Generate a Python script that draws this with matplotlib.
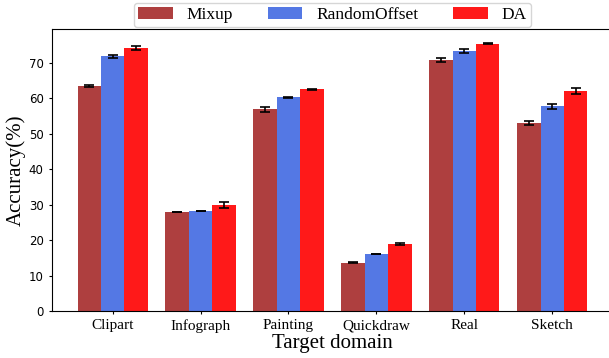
import numpy as np
import matplotlib.pyplot as plt

domains = ["Clipart", "Infograph", "Painting", "Quickdraw", "Real", "Sketch"]
methods = ["Mixup", "RandomOffset", "DA"]

mixup = [63.4, 27.9, 56.9, 13.6, 70.7, 53.0]
mixup_err = [0.3, 0.1, 0.7, 0.1, 0.6, 0.5]
random_offset = [71.8, 28.2, 60.2, 16.1, 73.2, 57.7]
random_offset_err = [0.4, 0.1, 0.2, 0.1, 0.6, 0.7]
da = [74.1, 29.9, 62.5, 18.9, 75.4, 62.0]
da_err = [0.5, 0.8, 0.1, 0.4, 0.2, 0.9]

colors = ["brown", "royalblue", "red"]

fig = plt.figure(figsize=(6.09, 3.58), dpi=100)
ax = fig.add_axes([0.0854, 0.1313, 0.921, 0.7877])

x = np.arange(len(domains))
width = 0.8 / 3
series = [(mixup, mixup_err), (random_offset, random_offset_err), (da, da_err)]
for i, (vals, errs) in enumerate(series):
    ax.bar(x + (i - 1) * width, vals, width, yerr=errs, color=colors[i], alpha=0.9,
           label=methods[i], capsize=3.3,
           error_kw=dict(ecolor="black", elinewidth=1.2, capthick=1.2))

ax.set_xticks(x)
ax.set_xticklabels(domains, fontfamily="Liberation Serif", fontsize=11)
ax.tick_params(axis="both", length=2.5)
ax.tick_params(axis="y", labelsize=8.5)
ax.set_xlim(-0.69, 5.69)
ax.set_ylim(0, 79.5)
ax.set_xlabel("Target domain", fontfamily="Liberation Serif", fontsize=15, labelpad=1)
ax.set_ylabel("Accuracy(%)", fontfamily="Liberation Serif", fontsize=15, labelpad=2)

# legend sits on top of the axes, slim padding so it fits in the figure
ax.legend(loc="lower center", bbox_to_anchor=(0.5, 0.975), ncol=3, borderpad=0.25,
          prop={"family": "Liberation Serif", "size": 12.5})

fig.savefig("out.png")
